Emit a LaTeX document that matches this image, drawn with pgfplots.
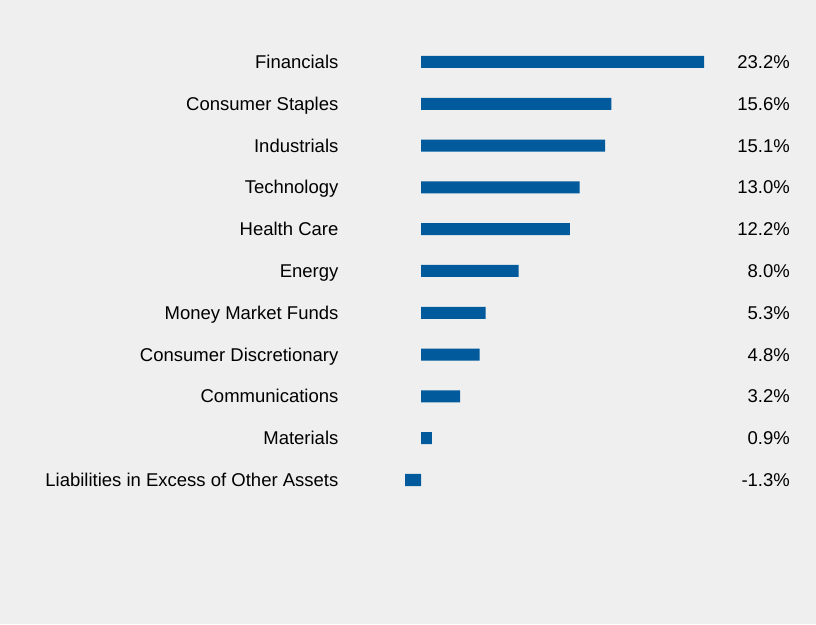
\documentclass[border=0pt]{standalone}
\usepackage{pgfplots}
\pgfplotsset{compat=1.18}
\usepackage{fontspec}
\setmainfont{Liberation Sans}
\definecolor{bg}{HTML}{EFEFEF}
\definecolor{barblue}{HTML}{005A9C}
\begin{document}
\begin{tikzpicture}[x=1pt,y=1pt]
\path[fill=bg] (0,0) rectangle (816,624);
\begin{axis}[
  at={(396.6pt,123.1pt)}, anchor=south west,
  scale only axis, width=317.2pt, height=459.8pt,
  xmin=-2, xmax=24, ymin=-0.5, ymax=10.5,
  xbar, bar width=12pt, bar shift=0pt,
  axis line style={draw=none}, xtick=\empty,
  ytick={0,...,10}, major tick length=0pt,
  yticklabels={Liabilities in Excess of Other Assets, Materials, Communications, Consumer Discretionary, Money Market Funds, Energy, Health Care, Technology, Industrials, Consumer Staples, Financials},
  yticklabel style={anchor=base east, xshift=-58pt, yshift=-6.6pt, font=\fontsize{18.5}{22}\selectfont, inner sep=0pt},
  clip=false,
]
\addplot[fill=barblue, draw=none] coordinates {
(-1.3,0) (0.9,1) (3.2,2) (4.8,3) (5.3,4) (8.0,5) (12.2,6) (13.0,7) (15.1,8) (15.6,9) (23.2,10)};
\foreach \v/\i in {-1.3/0, 0.9/1, 3.2/2, 4.8/3, 5.3/4, 8.0/5, 12.2/6, 13.0/7, 15.1/8, 15.6/9, 23.2/10}{
  \edef\tmp{\noexpand\node[anchor=base east, yshift=-6.6pt, inner sep=0pt, font=\noexpand\fontsize{18.5}{22}\noexpand\selectfont] at (axis cs:30.25,\i) {\v\noexpand\%};}
  \tmp
}
\end{axis}
\end{tikzpicture}
\end{document}
